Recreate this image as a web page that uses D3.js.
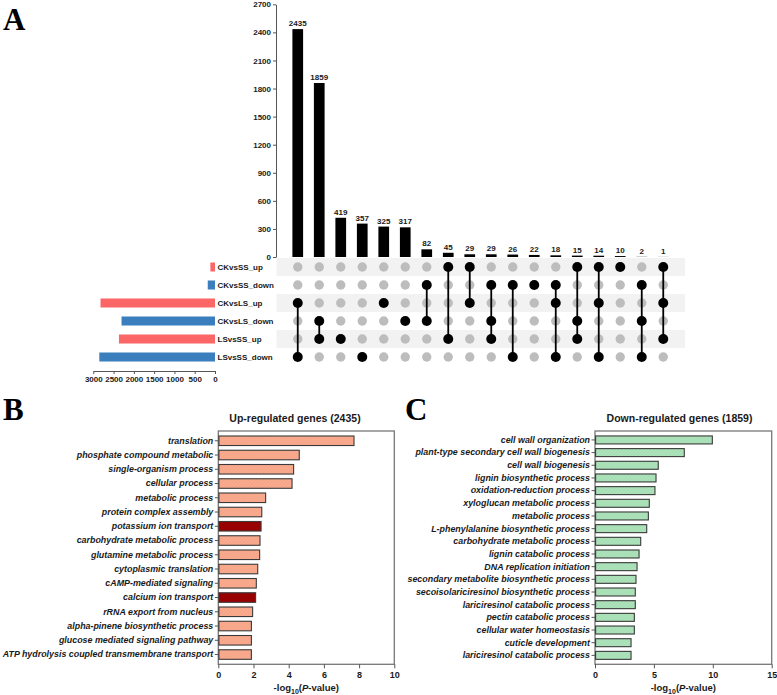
<!DOCTYPE html>
<html><head><meta charset="utf-8">
<script src="https://cdn.jsdelivr.net/npm/d3@7"></script>
<style>
html,body{margin:0;padding:0;background:#fff;}
svg{display:block;font-family:"Liberation Sans",Arial,sans-serif;}
</style></head>
<body><svg id="c" width="777" height="695"></svg>
<script>
// ---------- DATA ----------
const sets = ["CKvsSS_up","CKvsSS_down","CKvsLS_up","CKvsLS_down","LSvsSS_up","LSvsSS_down"];
const setSizes = [114,179,2822,2304,2368,2852];
const intersectionCounts = [2435,1859,419,357,325,317,82,45,29,29,26,22,18,15,14,10,2,1];
const intersectionMembers = [[2,5],[3,4],[4],[5],[2],[3],[1,3],[0,4],[0,2],[1,3,4],[1,5],[1],[1,2,5],[0,3,4],[0,2,5],[0],[1,3,5],[0,2,4]];
const intersectionTicks = [0,300,600,900,1200,1500,1800,2100,2400,2700];
const setSizeTicks = [3000,2500,2000,1500,1000,500,0];

const upTitle = "Up-regulated genes (2435)";
const upTerms = ["translation","phosphate compound metabolic","single-organism process","cellular process","metabolic process","protein complex assembly","potassium ion transport","carbohydrate metabolic process","glutamine metabolic process","cytoplasmic translation","cAMP-mediated signaling","calcium ion transport","rRNA export from nucleus","alpha-pinene biosynthetic process","glucose mediated signaling pathway","ATP hydrolysis coupled transmembrane transport"];
const upValues = [7.71,4.60,4.28,4.19,2.69,2.47,2.43,2.37,2.35,2.24,2.16,2.12,1.95,1.88,1.88,1.88];
const upHighlighted = ["potassium ion transport","calcium ion transport"];
const upTicks = [0,2,4,6,8,10];

const downTitle = "Down-regulated genes (1859)";
const downTerms = ["cell wall organization","plant-type secondary cell wall biogenesis","cell wall biogenesis","lignin biosynthetic process","oxidation-reduction process","xyloglucan metabolic process","metabolic process","L-phenylalanine biosynthetic process","carbohydrate metabolic process","lignin catabolic process","DNA replication initiation","secondary metabolite biosynthetic process","secoisolariciresinol biosynthetic process","lariciresinol catabolic process","pectin catabolic process","cellular water homeostasis","cuticle development","lariciresinol catabolic process"];
const downValues = [9.96,7.58,5.37,5.18,5.09,4.61,4.53,4.39,3.88,3.74,3.57,3.48,3.42,3.42,3.34,3.34,3.06,3.06];
const downTicks = [0,5,10,15];

// ---------- DRAW ----------
const svg = d3.select("#c");
const TXT = "#1a1a1a", AX = "#555";
const fmt = d3.format("d");

const defs = svg.append("defs");
function hatch(id, base, line){
  const p = defs.append("pattern").attr("id",id).attr("patternUnits","userSpaceOnUse")
    .attr("width",2.5).attr("height",2.5).attr("patternTransform","rotate(45)");
  p.append("rect").attr("width",2.5).attr("height",2.5).attr("fill",base);
  p.append("line").attr("x1",0).attr("y1",0).attr("x2",0).attr("y2",2.5).attr("stroke",line).attr("stroke-width",0.8);
}
hatch("salmon","#f9ab8f","#ef9577");
hatch("green","#aee3bb","#92d3a2");

// Panel letters
[["A",3,30],["B",3,420],["C",405,420]].forEach(([t,x,y])=>{
  svg.append("text").attr("x",x).attr("y",y).text(t)
    .attr("font-family","'Liberation Serif','Times New Roman',serif").attr("font-weight","bold")
    .attr("font-size",31).attr("fill","#000");
});

// ---- Panel A ----
const cols = d3.range(intersectionCounts.length);
const xA = d3.scaleBand().domain(cols).range([287,674]).paddingInner(0.5).paddingOuter(0.25);
const yA = d3.scaleLinear().domain([0,2700]).range([257,4.3]);
const rowY = d3.scaleBand().domain(sets).range([258,366]);

// shaded bands
sets.forEach((s,i)=>{
  if(i%2===0) svg.append("rect").attr("x",276.5).attr("y",rowY(s)).attr("width",685-276.5)
    .attr("height",rowY.bandwidth()).attr("fill","#f2f2f2");
});

// y axis
const gyA = svg.append("g").attr("transform","translate(276,0)")
  .call(d3.axisLeft(yA).tickValues(intersectionTicks).tickFormat(fmt).tickSize(3).tickPadding(2).tickSizeOuter(0));
gyA.selectAll("path,line").attr("stroke",AX).attr("stroke-width",1);
gyA.selectAll("text").attr("font-size",8).attr("font-weight","bold").attr("fill",TXT);

// bars
const barW = 10.7;
svg.append("g").selectAll("rect").data(intersectionCounts).join("rect")
  .attr("x",(d,i)=>xA(i)+xA.bandwidth()/2-barW/2).attr("width",barW)
  .attr("y",d=>yA(d)).attr("height",d=>yA(0)-yA(d)).attr("fill","#000");
svg.append("g").selectAll("text").data(intersectionCounts).join("text")
  .attr("x",(d,i)=>xA(i)+xA.bandwidth()/2).attr("y",d=>yA(d)-3)
  .attr("text-anchor","middle").attr("font-size",8).attr("font-weight","bold").attr("fill",TXT)
  .text(d=>d);

// matrix
const mg = svg.append("g");
cols.forEach(i=>{
  const cx = xA(i)+xA.bandwidth()/2;
  const mem = intersectionMembers[i];
  sets.forEach((s,j)=>{
    if(!mem.includes(j)) mg.append("circle").attr("cx",cx).attr("cy",rowY(s)+rowY.bandwidth()/2).attr("r",4.7).attr("fill","#bdbdbd");
  });
  if(mem.length>1){
    const ys = mem.map(j=>rowY(sets[j])+rowY.bandwidth()/2);
    mg.append("line").attr("x1",cx).attr("x2",cx).attr("y1",d3.min(ys)).attr("y2",d3.max(ys))
      .attr("stroke","#000").attr("stroke-width",1.8);
  }
  mem.forEach(j=>{
    mg.append("circle").attr("cx",cx).attr("cy",rowY(sets[j])+rowY.bandwidth()/2).attr("r",5).attr("fill","#000");
  });
});

// set size bars
const xS = d3.scaleLinear().domain([0,3000]).range([215,93.3]);
svg.append("g").selectAll("rect").data(setSizes).join("rect")
  .attr("x",d=>xS(d)).attr("width",d=>xS(0)-xS(d))
  .attr("y",(d,i)=>rowY(sets[i])+rowY.bandwidth()/2-4.5).attr("height",9)
  .attr("fill",(d,i)=>sets[i].endsWith("_up")?"#fb6767":"#3a7ebd");
svg.append("g").selectAll("text").data(sets).join("text")
  .attr("x",217.5).attr("y",d=>rowY(d)+rowY.bandwidth()/2).attr("dy","0.35em")
  .attr("font-size",8).attr("font-weight","bold").attr("fill",TXT).text(d=>d);
const gxS = svg.append("g").attr("transform","translate(0,371)")
  .call(d3.axisBottom(xS).tickValues(setSizeTicks).tickFormat(fmt).tickSize(3).tickPadding(2).tickSizeOuter(0));
gxS.selectAll("path,line").attr("stroke",AX);
gxS.selectAll("text").attr("font-size",8).attr("font-weight","bold").attr("fill",TXT);

// ---- GO bar panels ----
function goPanel(o){
  const g = svg.append("g");
  const x = d3.scaleLinear().domain(o.domain).range([o.x0,o.x1]);
  const y = d3.scaleBand().domain(d3.range(o.terms.length)).range([o.y0,o.y1]).paddingInner(o.pi).paddingOuter(o.po);
  g.append("rect").attr("x",o.x0).attr("y",o.y0).attr("width",o.x1-o.x0).attr("height",o.y1-o.y0)
    .attr("fill","none").attr("stroke","#777").attr("stroke-width",1.3);
  g.selectAll("rect.b").data(o.values).join("rect").attr("class","b")
    .attr("x",x(0)+0.6).attr("y",(d,i)=>y(i)).attr("height",y.bandwidth())
    .attr("width",d=>x(d)-x(0)-0.6)
    .attr("fill",(d,i)=>o.fillFn(i)).attr("stroke","#3a3a3a").attr("stroke-width",1.1);
  const ga = g.append("g").attr("transform",`translate(${o.x0},0)`)
    .call(d3.axisLeft(y).tickFormat(i=>o.terms[i]).tickSize(3.5).tickPadding(1.5).tickSizeOuter(0));
  ga.select("path").remove();
  ga.selectAll("line").attr("stroke","#555");
  ga.selectAll("text").attr("font-size",o.fs).attr("font-weight","bold").attr("font-style","italic").attr("fill",TXT);
  const gb = g.append("g").attr("transform",`translate(0,${o.y1})`)
    .call(d3.axisBottom(x).tickValues(o.ticks).tickFormat(fmt).tickSize(4).tickPadding(3).tickSizeOuter(0));
  gb.select("path").remove();
  gb.selectAll("line").attr("stroke","#555");
  gb.selectAll("text").attr("font-size",9).attr("font-weight","bold").attr("fill",TXT);
  g.append("text").attr("x",o.tx).attr("y",o.y0-9).attr("text-anchor","middle")
    .attr("font-size",10.5).attr("font-weight","bold").attr("fill",TXT).text(o.title);
  const xl = g.append("text").attr("x",(o.x0+o.x1)/2).attr("y",691).attr("text-anchor","middle")
    .attr("font-size",9.5).attr("font-weight","bold").attr("fill",TXT);
  xl.append("tspan").text("-log");
  xl.append("tspan").attr("font-size",7).attr("dy",2.5).text("10");
  xl.append("tspan").attr("dy",-2.5).text("(");
  xl.append("tspan").attr("font-style","italic").text("P");
  xl.append("tspan").text("-value)");
}

goPanel({x0:218.3,x1:394.3,y0:431,y1:664.3,domain:[0,10],terms:upTerms,values:upValues,ticks:upTicks,
  pi:0.33,po:0.35,fs:8.9,title:upTitle,tx:295,
  fillFn:i=>upHighlighted.includes(upTerms[i])?"#990000":"url(#salmon)"});
goPanel({x0:595,x1:771.7,y0:431,y1:664.3,domain:[0,15],terms:downTerms,values:downValues,ticks:downTicks,
  pi:0.37,po:0.39,fs:8.9,title:downTitle,tx:679.5,
  fillFn:i=>"url(#green)"});
</script></body></html>
